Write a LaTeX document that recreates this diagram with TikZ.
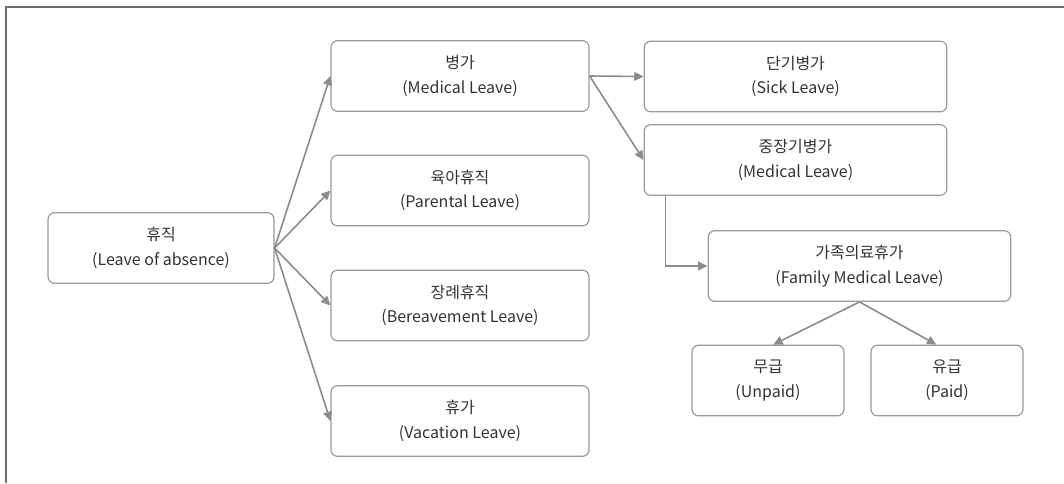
\documentclass[tikz,border=0pt]{standalone}
\usepackage{fontspec}
\setmainfont{Noto Sans CJK KR}
\usetikzlibrary{arrows.meta}

\definecolor{boxgray}{HTML}{9A9A9A}
\definecolor{arrowgray}{HTML}{8C8C8C}
\definecolor{framegray}{HTML}{6E6E6E}
\definecolor{textgray}{HTML}{333333}

\tikzset{
	leavebox/.style={draw=boxgray, line width=0.9pt, rounded corners=5pt,
		minimum height=53pt, align=center, text=textgray,
		font=\fontsize{12}{18.5}\selectfont},
	arr/.style={draw=arrowgray, line width=1.2pt,
		-{Triangle[length=7pt,width=6.5pt]}}
}

\begin{document}
\begin{tikzpicture}[x=0.75pt, y=-0.75pt]
	\useasboundingbox (0,0) rectangle (1064,483);
	\draw[framegray, line width=1.3pt] (6,483) -- (6,7) -- (1064,7);

	\node(hyujik) [leavebox, minimum width=169.5pt] at (161,248) {휴직\\(Leave of absence)};
	\node(byeongga) [leavebox, minimum width=193.5pt] at (460,76) {병가\\(Medical Leave)};
	\node(yuah) [leavebox, minimum width=193.5pt] at (460,190.5) {육아휴직\\(Parental Leave)};
	\node(jangrye) [leavebox, minimum width=193.5pt] at (460,305.5) {장례휴직\\(Bereavement Leave)};
	\node(hyuga) [leavebox, minimum width=193.5pt] at (460,421) {휴가\\(Vacation Leave)};
	\node(dangi) [leavebox, minimum width=227pt] at (795.5,76.5) {단기병가\\(Sick Leave)};
	\node(jungjang) [leavebox, minimum width=227pt] at (795.5,160) {중장기병가\\(Medical Leave)};
	\node(gajok) [leavebox, minimum width=227pt] at (859.5,266) {가족의료휴가\\(Family Medical Leave)};
	\node(mugeup) [leavebox, minimum width=114pt] at (768,380.5) {무급\\(Unpaid)};
	\node(yugeup) [leavebox, minimum width=114pt] at (947,380.5) {유급\\(Paid)};

	\draw[arr] (hyujik.east) -- (byeongga.west);
	\draw[arr] (hyujik.east) -- (yuah.west);
	\draw[arr] (hyujik.east) -- (jangrye.west);
	\draw[arr] (hyujik.east) -- (hyuga.west);
	\draw[arr] (byeongga.east) -- (dangi.west);
	\draw[arr] (byeongga.east) -- (jungjang.west);
	\draw[arr] ([xshift=16.5pt]jungjang.south west) |- (gajok.west);
	\draw[arr] (gajok.south) -- ([xshift=4pt]mugeup.north);
	\draw[arr] (gajok.south) -- ([xshift=-8pt]yugeup.north);

	\end{tikzpicture}
\end{document}
